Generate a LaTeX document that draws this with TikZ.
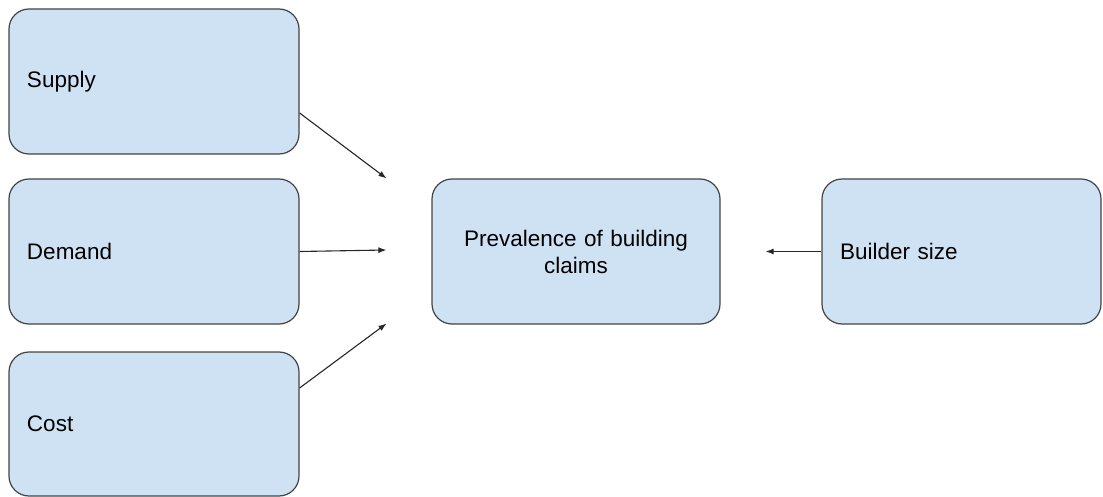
\documentclass[tikz,border=0pt]{standalone}
\usepackage{fontspec}
\setmainfont{Liberation Sans}
\usepackage{xcolor}
\usetikzlibrary{positioning, arrows.meta, calc}
\definecolor{boxBlue}{HTML}{CFE2F3}
\definecolor{boxLine}{HTML}{434343}

\tikzset{
  factor/.style={draw=boxLine, fill=boxBlue, line width=1.2pt, rounded corners=20pt,
    minimum height=145pt, inner sep=18pt, font=\fontsize{22.5}{27}\selectfont},
  factorL/.style={factor, text width=254pt, align=left},
  link/.style={draw=black!85, line width=1.1pt, -{Latex[length=8pt,width=6pt]}}
}

\begin{document}
\begin{tikzpicture}[x=1pt, y=-1pt]
  \useasboundingbox (0,0) rectangle (1103,497);
  \node[factorL] (supply) at (154,81.5) {Supply};
  \node[factorL] (demand) at (154,251.5) {Demand};
  \node[factorL, minimum height=144pt] (cost) at (154,424) {Cost};
  \node[factor, minimum width=288pt, text width=252pt, align=center] (prev) at (576,251.5) {Prevalence of building\\claims};
  \node[factor, text width=243pt, align=left] (builder) at (961.5,251.5) {Builder size};

  \coordinate (inS) at ($(prev.north west)+(-45,0)$);
  \coordinate (inD) at ($(prev.west)+(-45,-1.5)$);
  \coordinate (inC) at ($(prev.south west)+(-45,-1)$);
  \coordinate (inB) at ($(prev.east)+(45,0)$);

  \draw[link] ($(supply.east)+(0,31.5)$) -- (inS);
  \draw[link] (demand.east) -- (inD);
  \draw[link] ($(cost.east)+(0,-36)$) -- (inC);
  \draw[link] (builder.west) -- (inB);
\end{tikzpicture}
\end{document}
